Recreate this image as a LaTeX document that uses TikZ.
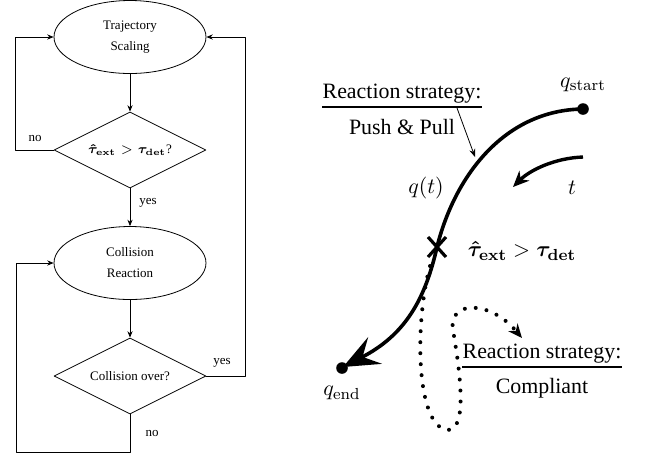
\RequirePackage{fix-cm}
\documentclass[tikz,border=0pt]{standalone}
\usepackage{amsmath,bm}
\usepackage[no-math]{fontspec}
\setmainfont{Liberation Serif}
\usetikzlibrary{arrows.meta,shapes.geometric}
\tikzset{
  flow/.style={thin,-{Stealth[length=3.2pt,width=2.6pt]}},
  term/.style={ellipse,draw,thin,minimum width=76pt,minimum height=36.5pt,
    align=center,inner sep=1pt},
  check/.style={diamond,draw,thin,aspect=2,minimum width=76pt,
    minimum height=38pt,inner sep=1pt},
  big/.style={font=\fontsize{10.95}{13}\selectfont},
  path traj/.style={line width=1.8pt},
  dot/.style={circle,fill,inner sep=0pt,minimum size=5.8pt},
  bar/.style={line width=1pt},
  every node/.style={font=\fontsize{6.5}{10.5}\selectfont}
}

\begin{document}
\begin{tikzpicture}[x=0.5pt,y=-0.5pt,line join=round]
  \useasboundingbox (0,0) rectangle (648,457);

  % flow chart
  \node[term] (scale) at (130,37) {Trajectory\\Scaling};
  \node[check] (check) at (130,150)
    {$\bm{\hat{\tau}}_{\mathbf{ext}}>\bm{\tau}_{\mathbf{det}}$?};
  \node[term] (react) at (130,263) {Collision\\Reaction};
  \node[check] (over) at (130,376) {Collision over?};

  \draw[flow] (scale) -- (check);
  \draw[flow] (check) -- (react);
  \draw[flow] (react) -- (over);

  % loops
  \draw[flow] (check.west) -- ++(-38,0) |- (scale.west);
  \draw[flow] (over.south) -- ++(0,38) -| ([xshift=-18.5pt]react.west)
    -- (react.west);
  \draw[flow] (over.east) -- ++(39,0) |- (scale.east);

  \node (no1)  at (35,138)  {no};
  \node (yes1) at (148,203) {yes};
  \node (yes2) at (222,363) {yes};
  \node (no2)  at (152,433) {no};

  % path in joint space
  \coordinate (qs) at (583,109);
  \coordinate (hit) at (437,247);
  \coordinate (qe) at (343,367);
  \draw[path traj,-{Stealth[length=18pt,width=15pt,inset=7pt]}]
    (qs) .. controls (505,110) and (455,175) .. (hit)
         .. controls (425,300) and (405,335) .. (qe);
  \node[dot] (qsdot) at (qs) {};
  \node[dot] (qedot) at (342,368) {};

  % collision marker
  \draw[line width=1.6pt] ([shift={(-9,-10)}]hit) -- ([shift={(9,10)}]hit);
  \draw[line width=1.6pt] ([shift={(9,-10)}]hit) -- ([shift={(-9,10)}]hit);

  % time direction
  \coordinate (t0) at (583,157);
  \coordinate (t1) at (513,187);
  \draw[line width=1.7pt,-{Stealth[length=8pt,width=7pt]}]
    (t0) .. controls (555,158) and (530,170) .. (t1);

  % labels
  \node[big] (lqs) at (583,85) {$q_{\mathrm{start}}$};
  \node[big] (lqt) at (426,188) {$q(t)$};
  \node[big] (lt) at (572,188) {$t$};
  \node[big] (lhit) at (522,251)
    {$\bm{\hat{\tau}}_{\mathbf{ext}} > \bm{\tau}_{\mathbf{det}}$};
  \node[big] (lqe) at (342,393) {$q_{\mathrm{end}}$};

  % strategy before the collision
  \node[big,anchor=base,inner xsep=0pt,inner ysep=2pt] (rsA) at (402,98)
    {Reaction strategy:};
  \draw[bar] (rsA.south west) -- (rsA.south east);
  \node[big,anchor=base] (ppA) at (402,134) {Push \& Pull};
  \coordinate (ppfrom) at (457,108);
  \coordinate (onq) at (475,157);
  \draw[thin,-{Stealth[length=4pt,width=3pt]}] (ppfrom) -- (onq);

  % compliant reaction
  \coordinate (d0) at (430,266);
  \coordinate (d1) at (522,338);
  \draw[line width=2pt,line cap=round,dash pattern=on 0pt off 5.5pt,
        -{Stealth[length=7pt,width=6pt]}]
    (d0) .. controls (415,320) and (415,425) .. (447,430)
         .. controls (470,432) and (458,360) .. (453,330)
         .. controls (448,300) and (490,300) .. (d1);

  \node[big,anchor=base,inner xsep=0pt,inner ysep=2pt] (rsB) at (542,358)
    {Reaction strategy:};
  \draw[bar] (rsB.south west) -- (rsB.south east);
  \node[big,anchor=base] (cpB) at (542,393) {Compliant};
\end{tikzpicture}
\end{document}
